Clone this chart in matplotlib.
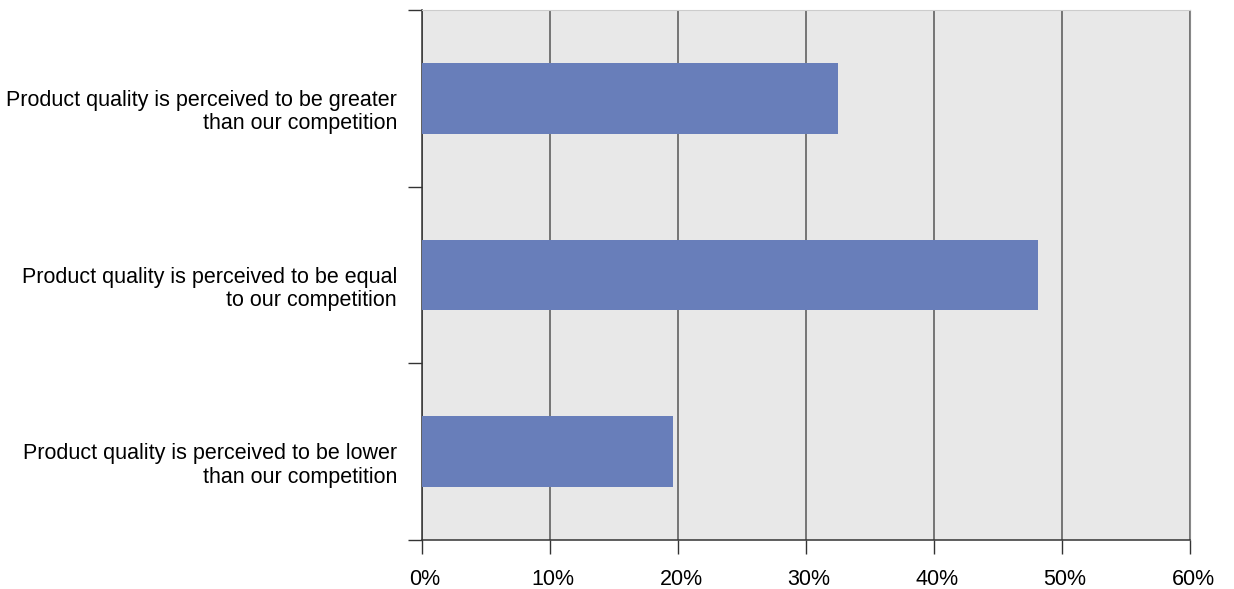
import matplotlib

matplotlib.use("Agg")
import matplotlib.pyplot as plt
import matplotlib.transforms as mtransforms

categories = [
    "Product quality is perceived to be greater\nthan our competition",
    "Product quality is perceived to be equal\nto our competition",
    "Product quality is perceived to be lower\nthan our competition",
]
values = [32.5, 48.1, 19.6]
x_ticks = [0, 10, 20, 30, 40, 50, 60]
x_labels = ["0%", "10%", "20%", "30%", "40%", "50%", "60%"]

plt.rcParams["font.family"] = ["Liberation Sans", "DejaVu Sans"]

fig = plt.figure(figsize=(12.34, 5.89), dpi=100)
ax = fig.add_axes([422 / 1234, 1 - 540 / 589, 768 / 1234, 530 / 589])
ax.set_facecolor("#e8e8e8")

pos = list(range(len(categories)))
ax.barh(pos, values, height=0.4, color="#687eba", zorder=3)

ax.set_xlim(0, 60)
ax.set_ylim(len(categories) - 0.5, -0.5)

ax.set_xticks(x_ticks)
ax.set_xticklabels(x_labels, fontsize=15.5)
ax.tick_params(axis="x", length=10, width=1, color="#333333", pad=11)
ax.grid(axis="x", color="#555555", linewidth=1.1, zorder=1)
shift = mtransforms.ScaledTranslation(3 / 100, 0, fig.dpi_scale_trans)
for lbl in ax.get_xticklabels():
    lbl.set_transform(lbl.get_transform() + shift)

# category boundaries as major ticks, labels at bar centres
ax.set_yticks([p - 0.5 for p in pos] + [len(categories) - 0.5])
ax.set_yticklabels([])
ax.tick_params(axis="y", which="major", length=10, width=1, color="#333333")
ax.set_yticks(pos, minor=True)
ax.set_yticklabels(categories, minor=True, fontsize=15.5, ha="right",
                   linespacing=1.15)
ax.tick_params(axis="y", which="minor", length=0, pad=18)
down = mtransforms.ScaledTranslation(0, -10 / 100, fig.dpi_scale_trans)
for lbl in ax.get_yticklabels(minor=True):
    lbl.set_transform(lbl.get_transform() + down)

for side in ("left", "bottom"):
    ax.spines[side].set_color("#333333")
    ax.spines[side].set_linewidth(1.1)
ax.spines["right"].set_color("#888888")
ax.spines["top"].set_color("#cccccc")

fig.savefig("out.png", dpi=100)
